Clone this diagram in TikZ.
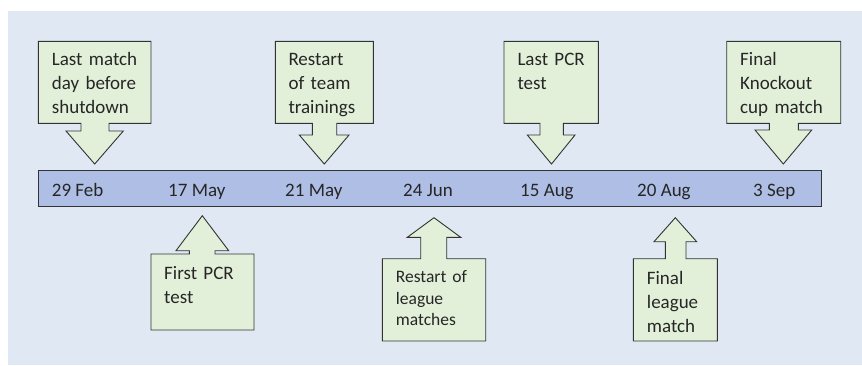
\documentclass[tikz,border=0pt]{standalone}
\usepackage{fontspec}
\setmainfont{Carlito}
\definecolor{bgblue}{HTML}{DFE8F3}
\definecolor{barblue}{HTML}{AEBEE5}
\definecolor{boxgreen}{HTML}{E2F0D9}
\definecolor{edge}{HTML}{333333}
\tikzset{
  callout/.style={draw=edge, fill=boxgreen, line width=0.9pt, line join=miter},
  bartext/.style={anchor=base west, inner sep=0pt, font=\fontsize{19}{24}\selectfont, text=black!85},
  boxtext/.style={anchor=base west, inner sep=0pt, text width=110pt, align=left, font=\fontsize{19}{24}\selectfont, text=black!85},
  smalltext/.style={boxtext, font=\fontsize{17.5}{21.5}\selectfont}
}
\begin{document}
\begin{tikzpicture}[x=1pt, y=-1pt]
\useasboundingbox (0,0) rectangle (862,365);
\fill[bgblue] (8,11) rectangle (862,365);
% timeline bar
\draw[draw=edge, fill=barblue, line width=0.9pt] (38.3,170.7) rectangle (821.7,206.7);
\node[bartext] (d1) at (51.7,196) {29 Feb};
\node[bartext] (d2) at (168,196) {17 May};
\node[bartext] (d3) at (285,196) {21 May};
\node[bartext] (d4) at (403,196) {24 Jun};
\node[bartext] (d5) at (520,196) {15 Aug};
\node[bartext] (d6) at (637,196) {20 Aug};
\node[bartext] (d7) at (753,196) {3 Sep};
% top callouts
\draw[callout] (38.3,41.3) -- (151,41.3) -- (151,123.3) -- (109,123.3) -- (109,131) -- (123.3,131) -- (94.7,164) -- (66,131) -- (81,131) -- (81,123.3) -- (38.3,123.3) -- cycle;
\node[boxtext] (t1) at (51.7,65.7) {Last match\\day before\\shutdown};
\draw[callout] (275.3,41.3) -- (373.3,41.3) -- (373.3,123.3) -- (336.7,123.3) -- (336.7,135) -- (349,135) -- (324.3,164) -- (299.3,135) -- (312.3,135) -- (312.3,123.3) -- (275.3,123.3) -- cycle;
\node[boxtext] (t2) at (288.3,65.7) {Restart\\of team\\trainings};
\draw[callout] (504,41.3) -- (598.3,41.3) -- (598.3,123.3) -- (563.3,123.3) -- (563.3,135) -- (575,135) -- (551.5,164) -- (527.3,135) -- (540,135) -- (540,123.3) -- (504,123.3) -- cycle;
\node[boxtext] (t3) at (517.3,65.7) {Last PCR\\test};
\draw[callout] (726.7,41.3) -- (840.7,41.3) -- (840.7,123.3) -- (798.3,123.3) -- (798.3,130) -- (811.7,130) -- (783.3,164) -- (755,130) -- (769.3,130) -- (769.3,123.3) -- (726.7,123.3) -- cycle;
\node[boxtext] (t4) at (740,65.7) {Final\\Knockout\\cup match};
% bottom callouts
\draw[callout] (151,330) -- (151,254) -- (189.3,254) -- (189.3,250.7) -- (176,250.7) -- (202.3,215.7) -- (228.7,250.7) -- (215,250.7) -- (215,254) -- (254,254) -- (254,330) -- cycle;
\node[boxtext] (b1) at (164,279.3) {First PCR\\test};
\draw[callout] (382.3,341) -- (382.3,258.7) -- (420.7,258.7) -- (420.7,237.3) -- (407.3,237.3) -- (434,217.7) -- (460.7,237.3) -- (446.7,237.3) -- (446.7,258.7) -- (485.7,258.7) -- (485.7,341) -- cycle;
\node[smalltext] (b2) at (395.7,282.7) {Restart of\\league\\matches};
\draw[callout] (633.3,341) -- (633.3,258.7) -- (665.3,258.7) -- (665.3,241.7) -- (654,241.7) -- (675.3,217.7) -- (696.7,241.7) -- (686,241.7) -- (686,258.7) -- (717.3,258.7) -- (717.3,341) -- cycle;
\node[boxtext] (b3) at (646.7,284) {Final\\league\\match};
\end{tikzpicture}
\end{document}
